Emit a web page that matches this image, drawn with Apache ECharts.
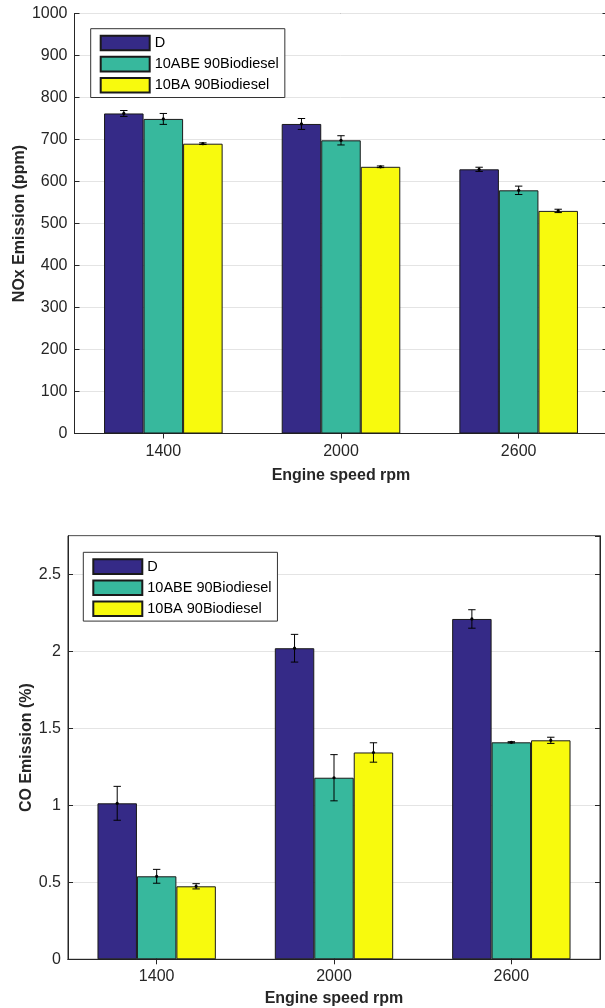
<!DOCTYPE html>
<html>
<head>
<meta charset="utf-8">
<script src="https://cdn.jsdelivr.net/npm/echarts@6/dist/echarts.min.js"></script>
<style>
html,body{margin:0;padding:0;background:#fff;}
#c1,#c2{width:605px;height:504px;}
</style>
</head>
<body>
<div id="c1"></div>
<div id="c2"></div>
<script>
// ---- data ----
const categories = ['1400', '2000', '2600'];
const seriesNames = ['D', '10ABE 90Biodiesel', '10BA 90Biodiesel'];

const noxD = [762, 737, 629];
const noxABE = [749, 698, 579];
const noxBA = [690, 635, 530];
const noxDErr = [7, 13, 5];
const noxABEErr = [13, 11, 10];
const noxBAErr = [2, 2, 4];

const coD = [1.013, 2.02, 2.21];
const coABE = [0.539, 1.179, 1.409];
const coBA = [0.474, 1.343, 1.422];
const coDErr = [0.11, 0.09, 0.06];
const coABEErr = [0.045, 0.15, 0.004];
const coBAErr = [0.017, 0.063, 0.02];

const noxTicks = {min: 0, max: 1000, interval: 100};
const coTicks = {min: 0, max: 2.75, interval: 0.5};

// ---- style ----
const colors = ['#352a87', '#37b89d', '#f8fa0d'];
const FONT = 'Liberation Sans, Arial, Helvetica, sans-serif';
const TXT = '#262626';
const BW = 0.2225;

function errSeries(vals, errs, idx) {
  return {
    type: 'custom',
    z: 10,
    silent: true,
    data: vals.map((v, i) => [i, v, v - errs[i], v + errs[i]]),
    encode: {x: 0, y: 1},
    renderItem: function (params, api) {
      const ci = api.value(0);
      const catW = api.size([1, 0])[0];
      const off = (idx - 1) * catW * BW;
      const pc = api.coord([ci, api.value(1)]);
      const pl = api.coord([ci, api.value(2)]);
      const ph = api.coord([ci, api.value(3)]);
      const x = pc[0] + off;
      const cap = 3.7;
      const st = {stroke: '#000', lineWidth: 1};
      return {
        type: 'group',
        children: [
          {type: 'line', shape: {x1: x, y1: pl[1], x2: x, y2: ph[1]}, style: st},
          {type: 'line', shape: {x1: x - cap, y1: pl[1], x2: x + cap, y2: pl[1]}, style: st},
          {type: 'line', shape: {x1: x - cap, y1: ph[1], x2: x + cap, y2: ph[1]}, style: st},
          {type: 'circle', shape: {cx: x, cy: pc[1], r: 1.6}, style: {fill: '#000'}}
        ]
      };
    }
  };
}

function makeOption(cfg) {
  const axisLineStyle = {show: true, lineStyle: {color: TXT, width: 1}};
  const tickStyle = {show: true, inside: true, length: 5, lineStyle: {color: TXT, width: 1}};
  const bars = cfg.vals.map((v, i) => ({
    name: seriesNames[i],
    type: 'bar',
    data: v,
    barWidth: (BW * 100) + '%',
    barGap: '0%',
    itemStyle: {color: colors[i], borderColor: '#1a1a1a', borderWidth: 1},
    silent: true
  }));
  const errs = cfg.vals.map((v, i) => errSeries(v, cfg.errs[i], i));
  return {
    animation: false,
    backgroundColor: '#fff',
    textStyle: {fontFamily: FONT, color: TXT},
    grid: {
      left: cfg.grid.left, top: cfg.grid.top, width: cfg.grid.width, height: cfg.grid.height,
      containLabel: false, outerBoundsMode: 'none',
      show: true, borderColor: TXT, borderWidth: 1, backgroundColor: '#fff'
    },
    legend: {
      data: seriesNames,
      orient: 'vertical',
      left: cfg.legend.left, top: cfg.legend.top,
      icon: 'rect',
      itemWidth: 49, itemHeight: 14.6, itemGap: 4.5,
      padding: [6, 6, 4, 9],
      backgroundColor: '#fff',
      borderColor: '#333', borderWidth: 1,
      textStyle: {fontFamily: FONT, fontSize: 14.5, color: '#000', lineHeight: 15},
      selectedMode: false
    },
    xAxis: [{
      type: 'category',
      data: categories,
      position: 'bottom',
      axisLine: axisLineStyle,
      axisTick: Object.assign({alignWithLabel: true}, tickStyle),
      axisLabel: {fontFamily: FONT, fontSize: 16, color: TXT, margin: cfg.xLabelMargin},
      splitLine: {show: false},
      name: 'Engine speed rpm',
      nameLocation: 'middle',
      nameGap: cfg.xNameGap,
      nameMoveOverlap: false,
      nameTextStyle: {fontFamily: FONT, fontSize: 16, fontWeight: 'bold', color: TXT}
    }, {
      type: 'category',
      data: categories,
      position: 'top',
      axisLine: axisLineStyle,
      axisTick: Object.assign({alignWithLabel: true}, tickStyle),
      axisLabel: {show: false},
      splitLine: {show: false}
    }],
    yAxis: [{
      type: 'value',
      min: cfg.ticks.min, max: cfg.ticks.max, interval: cfg.ticks.interval,
      position: 'left',
      axisLine: axisLineStyle,
      axisTick: tickStyle,
      axisLabel: {fontFamily: FONT, fontSize: 16, color: TXT, margin: 7, showMaxLabel: cfg.showMax,
        formatter: function (v) { return String(v); }},
      splitLine: {show: true, lineStyle: {color: '#e4e4e4', width: 1}},
      name: cfg.yName,
      nameLocation: 'middle',
      nameGap: cfg.yNameGap,
      nameMoveOverlap: false,
      nameTextStyle: {fontFamily: FONT, fontSize: 16, fontWeight: 'bold', color: TXT}
    }, {
      type: 'value',
      min: cfg.ticks.min, max: cfg.ticks.max, interval: cfg.ticks.interval,
      position: 'right',
      axisLine: axisLineStyle,
      axisTick: tickStyle,
      axisLabel: {show: false},
      splitLine: {show: false}
    }],
    series: bars.concat(errs)
  };
}

const c1 = echarts.init(document.getElementById('c1'), null, {renderer: 'canvas'});
c1.setOption(makeOption({
  vals: [noxD, noxABE, noxBA],
  errs: [noxDErr, noxABEErr, noxBAErr],
  ticks: noxTicks,
  showMax: true,
  grid: {left: 74.5, top: 13.5, width: 533, height: 420},
  legend: {left: 90.7, top: 28.7},
  yName: 'NOx Emission (ppm)',
  yNameGap: 47,
  xNameGap: 34,
  xLabelMargin: 10
}));

const c2 = echarts.init(document.getElementById('c2'), null, {renderer: 'canvas'});
c2.setOption(makeOption({
  vals: [coD, coABE, coBA],
  errs: [coDErr, coABEErr, coBAErr],
  ticks: coTicks,
  showMax: false,
  grid: {left: 68, top: 31.8, width: 532, height: 423.5},
  legend: {left: 83.3, top: 48.3},
  yName: 'CO Emission (%)',
  yNameGap: 33,
  xNameGap: 31.5,
  xLabelMargin: 9.5
}));
</script>
</body>
</html>
